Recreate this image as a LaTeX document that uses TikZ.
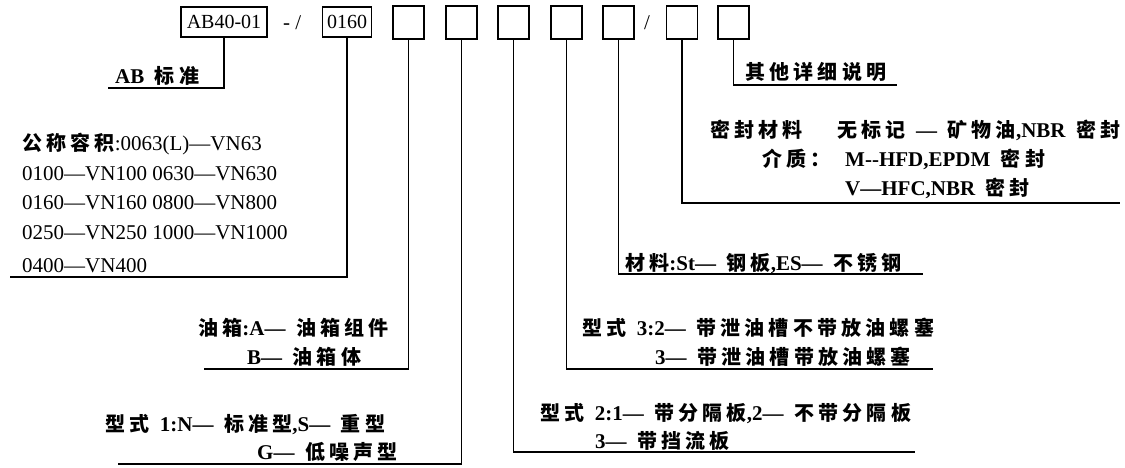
\documentclass[tikz,border=0pt]{standalone}
\usepackage{fontspec}
\setmainfont{Liberation Serif}
\newfontfamily\notefont[WordSpace=2]{Liberation Serif}
\newfontfamily\cjk[LetterSpace=21]{Noto Sans CJK SC}
\newcommand\zh[1]{{\cjk\bfseries\fontsize{20}{22}\selectfont #1}}
\tikzset{
  codebox/.style={draw, line width=1.2pt, minimum height=30pt, inner sep=2pt},
  blankbox/.style={draw, line width=1.2pt, minimum width=31pt, minimum height=33pt, inner sep=0pt},
  note/.style={anchor=base west, inner sep=0pt, font=\notefont\bfseries\fontsize{21}{24}\selectfont},
  plain/.style={anchor=base west, inner sep=0pt, font=\fontsize{21}{24}\selectfont},
  lead/.style={line width=1.2pt}
}
\begin{document}
\begin{tikzpicture}[x=1pt, y=-1pt, font=\fontsize{20}{24}\selectfont]
            \useasboundingbox (0,0) rectangle (1125,468);

            % codigo
            \node[codebox, minimum width=86pt] (ab) at (224,22) {AB40-01};
            \node[plain] (dash) at (283,30) {- /};
            \node[codebox, minimum width=49pt] (vol) at (347,22) {0160};
            \node[blankbox] (tank) at (408.5,22.5) {};
            \node[blankbox] (type1) at (461.5,22.5) {};
            \node[blankbox] (type2) at (513.5,22.5) {};
            \node[blankbox] (type3) at (566.5,22.5) {};
            \node[blankbox] (mat) at (618.5,22.5) {};
            \node[plain] (slash) at (644,30) {/};
            \node[blankbox] (seal) at (682,22.5) {};
            \node[blankbox] (other) at (733.5,22.5) {};

            % AB
            \node[note] (ab-txt) at (115,84) {AB \zh{标准}};
            \coordinate (ab-end) at (108,88);
            \draw[lead] (ab.south) |- (ab-end);

            % volume
            \node[plain] (vol-a) at (22,151) {\zh{公称容积}:0063(L)—VN63};
            \node[plain] (vol-b) at (22,180) {0100—VN100 0630—VN630};
            \node[plain] (vol-c) at (22,210) {0160—VN160 0800—VN800};
            \node[plain] (vol-d) at (22,240) {0250—VN250 1000—VN1000};
            \node[plain] (vol-e) at (22,272) {0400—VN400};
            \coordinate (vol-end) at (10,277);
            \draw[lead] (vol.south) |- (vol-end);

            % oil tank
            \node[note] (tank-a) at (198,335) {\zh{油箱}:A— \zh{油箱组件}};
            \node[note] (tank-b) at (247,364) {B— \zh{油箱体}};
            \coordinate (tank-end) at (204,369);
            \draw[lead] (tank.south) |- (tank-end);

            % type 1
            \node[note] (type1-a) at (105,431) {\zh{型式} 1:N— \zh{标准型},S— \zh{重型}};
            \node[note] (type1-b) at (257,459) {G— \zh{低噪声型}};
            \coordinate (type1-end) at (118,464);
            \draw[lead] (type1.south) |- (type1-end);

            % type 2
            \node[note] (type2-a) at (540,420) {\zh{型式} 2:1— \zh{带分隔板},2— \zh{不带分隔板}};
            \node[note] (type2-b) at (595,448) {3— \zh{带挡流板}};
            \coordinate (type2-end) at (915,452);
            \draw[lead] (type2.south) |- (type2-end);

            % type 3
            \node[note] (type3-a) at (582,335) {\zh{型式} 3:2— \zh{带泄油槽不带放油螺塞}};
            \node[note] (type3-b) at (655,364) {3— \zh{带泄油槽带放油螺塞}};
            \coordinate (type3-end) at (933,369);
            \draw[lead] (type3.south) |- (type3-end);

            % material
            \node[note] (mat-txt) at (625,270) {\zh{材料}:St— \zh{钢板},ES— \zh{不锈钢}};
            \coordinate (mat-end) at (923,274);
            \draw[lead] (mat.south) |- (mat-end);

            % seal
            \node[note] (seal-a) at (710,138) {\zh{密封材料}};
            \node[note] (seal-b) at (837,138) {\zh{无标记} — \zh{矿物油},NBR \zh{密封}};
            \node[note] (seal-c) at (762,167) {\zh{介质：}};
            \node[note] (seal-d) at (845,167) {M--HFD,EPDM \zh{密封}};
            \node[note] (seal-e) at (845,196) {V—HFC,NBR \zh{密封}};
            \coordinate (seal-end) at (1120,203);
            \draw[lead] (seal.south) |- (seal-end);

            % other
            \node[note] (other-txt) at (745,80) {\zh{其他详细说明}};
            \coordinate (other-end) at (897,85);
            \draw[lead] (other.south) |- (other-end);

\end{tikzpicture}
\end{document}
